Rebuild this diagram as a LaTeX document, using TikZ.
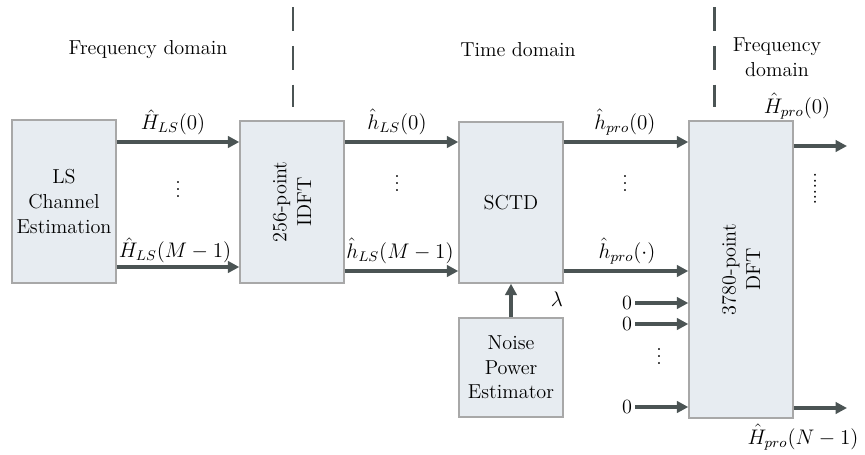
\documentclass[tikz,border=0pt]{standalone}
\usetikzlibrary{arrows.meta,calc}
\definecolor{boxgray}{HTML}{E7ECF1}
\definecolor{edgegray}{HTML}{A8A8A8}
\definecolor{arrgray}{HTML}{4B5454}
\tikzset{
	blk/.style={draw=edgegray, fill=boxgray, line width=0.8pt, minimum width=2.08cm, inner sep=0pt, align=center},
	sig/.style={draw=arrgray, line width=1.8pt, -{Triangle[length=6.5pt,width=6.5pt]}},
	sepline/.style={draw=arrgray, line width=1.7pt, dash pattern=on 13.6pt off 8.5pt},
	zero/.style={anchor=east, inner sep=1.5pt},
}

\begin{document}
\begin{tikzpicture}[x=0.02cm, y=-0.02cm, font=\fontsize{11.5}{14}\selectfont]
	\useasboundingbox (0,0) rectangle (865,454);
	
	% blocks
	\node[blk, minimum height=3.26cm] (ls) at (64,201.5) {LS\\Channel\\Estimation};
	\node[blk, minimum height=3.24cm] (idft) at (292,202) {};
	\node[rotate=90, align=center] (idfttxt) at (idft) {256-point\\IDFT};
	\node[blk, minimum height=3.22cm] (sctd) at (511,202.5) {SCTD};
	\node[blk, minimum height=1.98cm] (noise) at (511,367.5) {Noise\\Power\\Estimator};
	\node[blk, minimum height=5.94cm] (dft) at (741,269.5) {};
	\node[rotate=90, align=center] (dfttxt) at (dft) {3780-point\\DFT};
	
	% domain separators
	\draw[sepline] (293,7) -- (293,107);
	\draw[sepline] (714,7) -- (714,107);
	\node (fd1) at (148,50) {Frequency domain};
	\node (td) at (518,50) {Time domain};
	\node[align=center] (fd2) at (777,57) {Frequency\\domain};
	
	% LS -> IDFT
	\draw[sig] (ls.east |- 0,142) -- (idft.west |- 0,142);
	\draw[sig] (ls.east |- 0,267) -- (idft.west |- 0,267);
	\node (lsa) at (173,122) {$\hat{H}_{LS}(0)$};
	\node (lsb) at (175,250) {$\hat{H}_{LS}(M-1)$};
	\node (lsd) at (178,184) {$\vdots$};
	
	% IDFT -> SCTD
	\draw[sig] (idft.east |- 0,142) -- (sctd.west |- 0,142);
	\draw[sig] (idft.east |- 0,271) -- (sctd.west |- 0,271);
	\node (ta) at (397,122) {$\hat{h}_{LS}(0)$};
	\node (tb) at (400,251) {$\hat{h}_{LS}(M-1)$};
	\node (td1) at (397,178) {$\vdots$};
	
	% SCTD -> DFT
	\draw[sig] (sctd.east |- 0,142) -- (dft.west |- 0,142);
	\draw[sig] (sctd.east |- 0,271) -- (dft.west |- 0,271);
	\node (pa) at (625,122) {$\hat{h}_{pro}(0)$};
	\node (pb) at (627,251) {$\hat{h}_{pro}(\cdot)$};
	\node (pd) at (625,178) {$\vdots$};
	
	% noise power
	\draw[sig] (noise.north) -- (sctd.south);
	\node (lam) at (557,299) {$\lambda$};
	
	% zero padding
	\node[zero] (z1) at (635,303) {0};
	\node[zero] (z2) at (635,324) {0};
	\node[zero] (z3) at (635,407) {0};
	\node (zd) at (659,351) {$\vdots$};
	\draw[sig] (z1.east) -- (dft.west |- z1.east);
	\draw[sig] (z2.east) -- (dft.west |- z2.east);
	\draw[sig] (z3.east) -- (dft.west |- z3.east);
	
	% outputs
	\coordinate (out0) at (847,146);
	\coordinate (outN) at (847,408);
	\draw[sig] (dft.east |- out0) -- (out0);
	\draw[sig] (dft.east |- outN) -- (outN);
	\node (oa) at (797,106) {$\hat{H}_{pro}(0)$};
	\node (ob) at (803,437) {$\hat{H}_{pro}(N-1)$};
	\node[rotate=-90] (od) at (815,189) {......};
\end{tikzpicture}
\end{document}
